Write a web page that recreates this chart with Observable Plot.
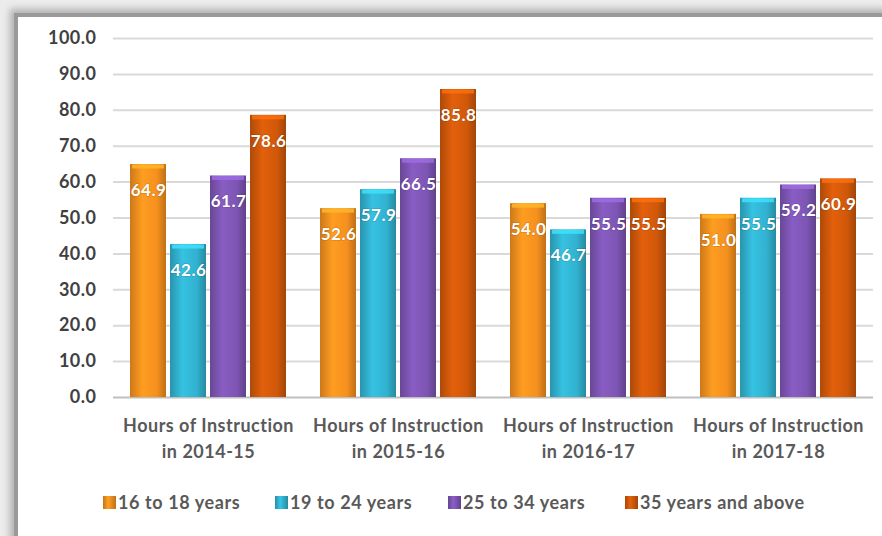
<!DOCTYPE html>
<html>
<head>
<meta charset="utf-8">
<script src="https://cdn.jsdelivr.net/npm/d3@7"></script>
<script src="https://cdn.jsdelivr.net/npm/@observablehq/plot@0.6"></script>
<style>
  html, body { margin: 0; padding: 0; background: #ececec; }
  body { width: 882px; height: 536px; position: relative; overflow: hidden; font-family: Lato, "Open Sans", sans-serif; }
  #frame { position: absolute; left: 14px; top: 13px; width: 900px; height: 560px; background: #fff;
           border-left: 4px solid #9a9a9a; border-top: 4px solid #9a9a9a;
           box-shadow: -4px -4px 7px rgba(0,0,0,0.25); }
  #chart { position: absolute; left: 0; top: 0; }
  #legend { position: absolute; top: 491px; left: 0; width: 882px; font: bold 18px Lato, sans-serif; color: #595959; letter-spacing: 0.6px; }
  .item { position: absolute; display: flex; align-items: center; white-space: nowrap; }
  .sw { width: 13px; height: 13px; margin-right: 2px; }
</style>
</head>
<body>
<div id="frame"></div>
<svg width="0" height="0" style="position:absolute">
  <defs id="defs"></defs>
</svg>
<div id="chart"></div>
<div id="legend"></div>
<script>
const groups = ["Hours of Instruction\nin 2014-15", "Hours of Instruction\nin 2015-16", "Hours of Instruction\nin 2016-17", "Hours of Instruction\nin 2017-18"];
const series = ["16 to 18 years", "19 to 24 years", "25 to 34 years", "35 years and above"];
const v16to18 = [64.9, 52.6, 54.0, 51.0];
const v19to24 = [42.6, 57.9, 46.7, 55.5];
const v25to34 = [61.7, 66.5, 55.5, 59.2];
const v35plus = [78.6, 85.8, 55.5, 60.9];
const yTicks = [0, 10, 20, 30, 40, 50, 60, 70, 80, 90, 100];
const colors = ["#f5901e", "#31b1cf", "#7d55b3", "#d0580a"];
const legendX = [103, 275, 448, 625];

const seriesValues = [v16to18, v19to24, v25to34, v35plus];
const data = [];
groups.forEach((g, gi) => series.forEach((s, si) => data.push({group: g, series: s, value: seriesValues[si][gi]})));

// gradients
const defs = d3.select("#defs");
colors.forEach((c, i) => {
  const lg = defs.append("linearGradient").attr("id", "g" + i).attr("x1", "0").attr("x2", "1").attr("y1", "0").attr("y2", "0");
  const base = d3.color(c);
  lg.append("stop").attr("offset", "0%").attr("stop-color", base.darker(0.5));
  lg.append("stop").attr("offset", "35%").attr("stop-color", base.brighter(0.25));
  lg.append("stop").attr("offset", "75%").attr("stop-color", base);
  lg.append("stop").attr("offset", "100%").attr("stop-color", base.darker(0.7));
});
const capColors = colors.map(c => d3.color(c).brighter(0.7).formatHex());

const chart = Plot.plot({
  width: 882,
  height: 470,
  marginLeft: 113,
  marginRight: 9,
  marginTop: 38,
  marginBottom: 73,
  style: {fontFamily: "Lato, 'Open Sans', sans-serif", background: "transparent", letterSpacing: "0.5px"},
  fx: {domain: groups, padding: 0},
  x: {domain: series, paddingInner: 0.1, paddingOuter: 0.4, axis: null},
  y: {domain: [0, 100], axis: null},
  color: {domain: series, range: colors.map((c, i) => `url(#g${i})`)},
  marks: [
    Plot.ruleY(yTicks.filter(d => d > 0), {stroke: "#d9d9d9", strokeWidth: 2}),
    Plot.ruleY([0], {stroke: "#bfbfbf", strokeWidth: 2}),
    Plot.barY(data, {fx: "group", x: "series", y: "value", fill: "series"}),
    Plot.tickY(data, {fx: "group", x: "series", y: "value", stroke: d => capColors[series.indexOf(d.series)], strokeWidth: 4, dy: 2, strokeOpacity: 0.8, insetLeft: 2, insetRight: 2}),
    Plot.text(data, {fx: "group", x: "series", y: "value", text: d => d.value.toFixed(1), dy: 26, fill: "white", fontSize: 17, fontWeight: "bold", stroke: "rgba(0,0,0,0.15)", strokeWidth: 1.5}),
    Plot.axisY(yTicks, {anchor: "left", tickSize: 0, tickPadding: 17, tickFormat: d => d.toFixed(1), fontSize: 18, fontWeight: "bold", fill: "#404040", label: null}),
    Plot.axisFx({anchor: "bottom", tickSize: 0, tickPadding: 17, fontSize: 18, fontWeight: "bold", fill: "#595959", lineHeight: 1.4, label: null})
  ]
});
document.getElementById("chart").appendChild(chart);

const legend = d3.select("#legend");
series.forEach((s, i) => {
  const it = legend.append("div").attr("class", "item").style("left", legendX[i] + "px");
  it.append("div").attr("class", "sw").style("background", `linear-gradient(90deg, ${d3.color(colors[i]).darker(0.6)}, ${d3.color(colors[i]).brighter(0.3)} 40%, ${d3.color(colors[i]).darker(0.7)})`);
  it.append("span").text(s);
});
</script>
</body>
</html>
